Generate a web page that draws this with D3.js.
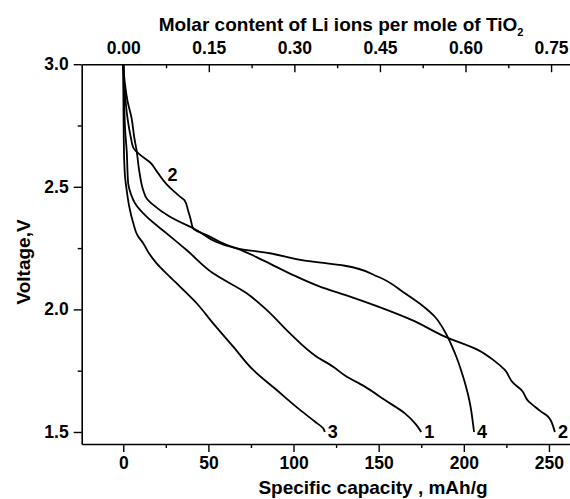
<!DOCTYPE html>
<html>
<head>
<meta charset="utf-8">
<script src="https://cdn.jsdelivr.net/npm/d3@7"></script>
<style>
  body { margin: 0; background: #fff; }
  svg { display: block; font-family: "Liberation Sans", Arial, sans-serif; font-weight: bold; }
</style>
</head>
<body>
<div id="chart"></div>
<script>
// discharge curves, capacity (mAh/g) vs voltage (V)
var cap1  = [0, 0.5, 1.2, 2.0, 2.9, 4.5, 6.9, 13.7, 25.5, 37.2, 52.8, 72.5, 84.2, 97.9, 113.6, 123.3, 130.2, 141.9, 153.7, 165.4, 172, 175];
var volt1 = [3.0, 2.85, 2.72, 2.65, 2.514, 2.47, 2.433, 2.378, 2.31, 2.242, 2.147, 2.066, 1.998, 1.902, 1.807, 1.766, 1.73, 1.685, 1.63, 1.576, 1.53, 1.50];

var cap2  = [0, 0.8, 2.5, 4.5, 5.9, 10, 15.7, 20, 25.5, 30, 33.3, 36, 38.2, 39.5, 41.1, 50, 60, 66.6, 82.2, 99.8, 115.5, 130.2, 149.7, 169.3, 188.9, 208.5, 218, 224.1, 229, 233.9, 238, 241.8, 245, 249.6, 251, 252.5, 253.5];
var volt2 = [3.0, 2.9, 2.78, 2.70, 2.66, 2.63, 2.60, 2.56, 2.51, 2.48, 2.46, 2.445, 2.40, 2.37, 2.33, 2.30, 2.265, 2.249, 2.20, 2.14, 2.093, 2.059, 2.011, 1.957, 1.889, 1.834, 1.79, 1.753, 1.70, 1.671, 1.625, 1.603, 1.585, 1.562, 1.548, 1.522, 1.50];

var cap3  = [0, 0.1, 0.3, 0.6, 1.2, 2.0, 3.5, 5.9, 8.5, 11.7, 15, 19.6, 27.4, 33.3, 43.1, 52.8, 64.6, 76.3, 90.1, 103.8, 113, 117.4, 118.4];
var volt3 = [3.0, 2.85, 2.7, 2.6, 2.53, 2.487, 2.42, 2.351, 2.30, 2.27, 2.23, 2.188, 2.133, 2.093, 2.025, 1.943, 1.848, 1.753, 1.671, 1.59, 1.54, 1.515, 1.50];

var cap4  = [0, 1, 2.5, 4.9, 6.5, 7.8, 9.5, 11.7, 14, 17.6, 27.4, 41.1, 66.6, 86.1, 105.7, 130.2, 149.7, 165.4, 175.2, 183, 188.9, 194.8, 199.6, 203.6, 205.5, 206];
var volt4 = [3.0, 2.92, 2.85, 2.78, 2.70, 2.65, 2.56, 2.487, 2.45, 2.426, 2.378, 2.331, 2.249, 2.229, 2.20, 2.178, 2.133, 2.066, 2.018, 1.97, 1.909, 1.821, 1.725, 1.617, 1.529, 1.50];

var curveNames = ['1', '2', '3', '4'];
var curveCaps = [cap1, cap2, cap3, cap4];
var curveVolts = [volt1, volt2, volt3, volt4];

// extra "2" label up by the hump of curve 2
var hump2Cap = 29;
var hump2Volt = 2.55;

var capTicks = [0, 50, 100, 150, 200, 250];
var capMinor = [25, 75, 125, 175, 225];
var molarTicks = [0.00, 0.15, 0.30, 0.45, 0.60, 0.75];
var molarMinor = [0.075, 0.225, 0.375, 0.525, 0.675];
var voltTicks = [1.5, 2.0, 2.5, 3.0];
var voltMinor = [1.75, 2.25, 2.75];
var mAhPerMole = 335; // 1 Li per TiO2

var width = 570;
var height = 499;
// note: can't call it "top", that's window.top
var padL = 81.7, padR = 583, padT = 64.2, padB = 444;

var xScale = d3.scaleLinear().domain([-24.4, 270]).range([padL, padR]);
var molScale = d3.scaleLinear()
    .domain(xScale.domain().map(function (d) { return d / mAhPerMole; }))
    .range([padL, padR]);
var yScale = d3.scaleLinear().domain([1.451, 3.0]).range([padB, padT]);

var svg = d3.select('#chart').append('svg')
    .attr('width', width)
    .attr('height', height);

// bottom axis
var gb = svg.append('g').attr('transform', 'translate(0,' + padB + ')');
gb.call(d3.axisBottom(xScale).tickValues(capTicks).tickSizeInner(8).tickSizeOuter(0).tickPadding(5).tickFormat(d3.format('d')));
gb.append('g').call(d3.axisBottom(xScale).tickValues(capMinor).tickSizeInner(4).tickSizeOuter(0).tickFormat(''))
    .select('.domain').remove();

// top axis, ticks point inside
var gt = svg.append('g').attr('transform', 'translate(0,' + padT + ')');
gt.call(d3.axisTop(molScale).tickValues(molarTicks).tickSizeInner(-8).tickSizeOuter(0).tickPadding(10).tickFormat(d3.format('.2f')));
gt.append('g').call(d3.axisTop(molScale).tickValues(molarMinor).tickSizeInner(-4).tickSizeOuter(0).tickFormat(''))
    .select('.domain').remove();

// left axis
var gl = svg.append('g').attr('transform', 'translate(' + padL + ',0)');
gl.call(d3.axisLeft(yScale).tickValues(voltTicks).tickSizeInner(8).tickSizeOuter(0).tickPadding(5).tickFormat(d3.format('.1f')));
gl.append('g').call(d3.axisLeft(yScale).tickValues(voltMinor).tickSizeInner(4).tickSizeOuter(0).tickFormat(''))
    .select('.domain').remove();

svg.selectAll('.domain').attr('stroke', '#000').attr('stroke-width', 1.6);
svg.selectAll('.tick line').attr('stroke', '#000').attr('stroke-width', 1.4);
svg.selectAll('.tick text')
    .attr('fill', '#000')
    .style('font-size', '17.5px')
    .style('font-weight', 'bold')
    .style('font-family', '"Liberation Sans", Arial, sans-serif');

// curves
var line = d3.line()
    .x(function (d) { return xScale(d[0]); })
    .y(function (d) { return yScale(d[1]); })
    .curve(d3.curveMonotoneY);

var series = curveNames.map(function (n, i) {
  return { name: n, pts: curveCaps[i].map(function (c, j) { return [c, curveVolts[i][j]]; }) };
});

svg.append('g').selectAll('path').data(series)
  .enter().append('path')
    .attr('d', function (d) { return line(d.pts); })
    .attr('fill', 'none')
    .attr('stroke', '#000')
    .attr('stroke-width', 1.8)
    .attr('stroke-linejoin', 'round');

// number next to the end of each curve
svg.append('g').selectAll('text').data(series)
  .enter().append('text')
    .attr('x', function (d) { var p = d.pts[d.pts.length - 1]; return xScale(p[0]) + 3; })
    .attr('y', function (d) { var p = d.pts[d.pts.length - 1]; return yScale(p[1]) + 6; })
    .style('font-size', '18px')
    .text(function (d) { return d.name; });

svg.append('text')
    .attr('x', xScale(hump2Cap))
    .attr('y', yScale(hump2Volt))
    .attr('text-anchor', 'middle')
    .attr('dy', '0.35em')
    .style('font-size', '18px')
    .text('2');

// axis titles
svg.append('text')
    .attr('x', 373)
    .attr('y', 494)
    .attr('text-anchor', 'middle')
    .style('font-size', '19px')
    .text('Specific capacity , mAh/g');

var topTitle = svg.append('text')
    .attr('x', 341)
    .attr('y', 31)
    .attr('text-anchor', 'middle')
    .style('font-size', '19px');
topTitle.append('tspan').text('Molar content of Li ions per mole of TiO');
topTitle.append('tspan').attr('dy', 5).style('font-size', '11px').text('2');

svg.append('text')
    .attr('transform', 'translate(30,262) rotate(-90)')
    .attr('text-anchor', 'middle')
    .style('font-size', '19px')
    .text('Voltage,V');
</script>
</body>
</html>
